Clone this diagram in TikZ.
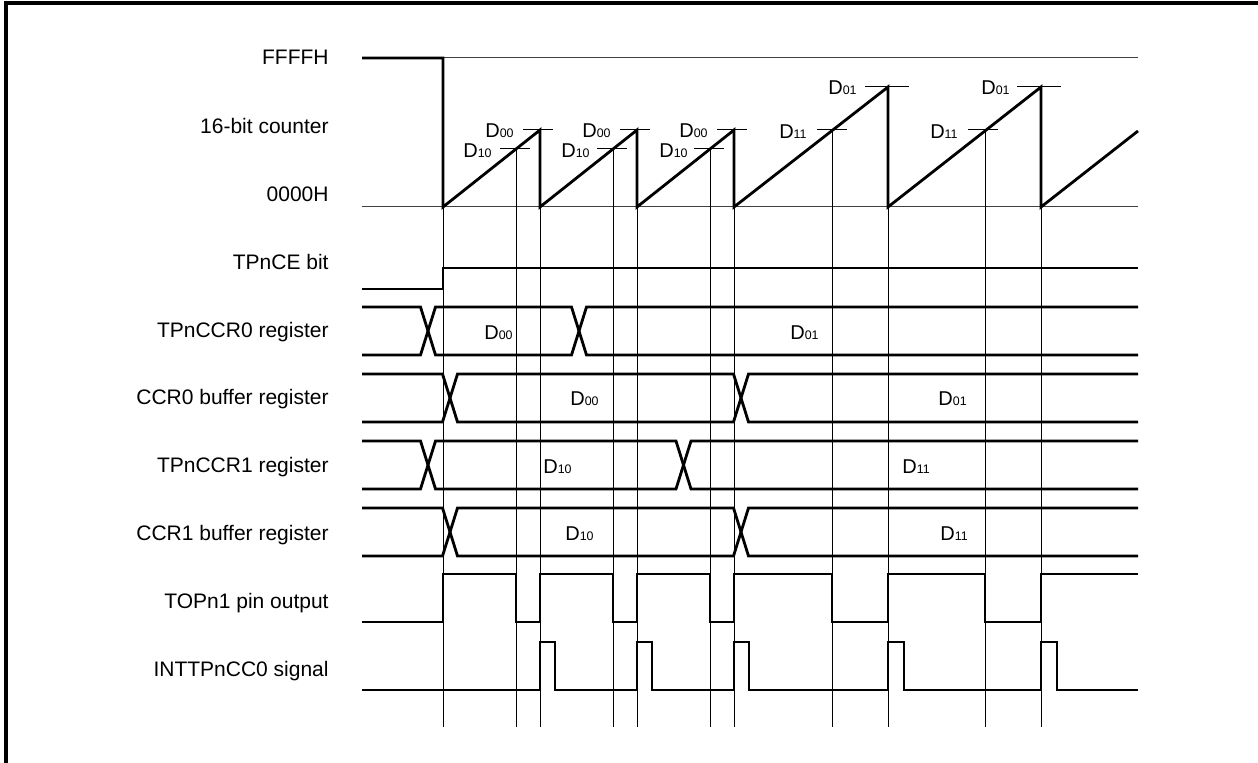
\documentclass[tikz,border=0pt]{standalone}
\usepackage{fontspec}
\setmainfont{Liberation Sans}
\newcommand\Dsub[1]{D{\fontsize{6.2}{7}\selectfont #1}}
\newcommand\busrow[4]{%
  \draw[sig] (362,#1) -- ({#3-7.5},#1) -- ({#3+7.5},#2) -- ({#4-7.5},#2) -- ({#4+7.5},#1) -- (1138,#1);
  \draw[sig] (362,#2) -- ({#3-7.5},#2) -- ({#3+7.5},#1) -- ({#4-7.5},#1) -- ({#4+7.5},#2) -- (1138,#2);}
\begin{document}
\begin{tikzpicture}[x=0.5pt,y=-0.5pt,
  lab/.style={anchor=base east,font=\fontsize{10.5}{12}\selectfont,inner sep=0pt},
  dlab/.style={anchor=base east,font=\fontsize{10}{12}\selectfont,inner sep=0pt},
  blab/.style={anchor=base west,font=\fontsize{10}{12}\selectfont,inner sep=0pt},
  sig/.style={line width=1.4pt,line join=miter},
  vline/.style={line width=0.5pt},
  ref/.style={line width=0.5pt,black!75}]
\useasboundingbox (0,0) rectangle (1258,763);
% frame
\draw[line width=1.7pt] (6,763) -- (6,3) -- (1258,3);
% labels
\node[lab] (lffff) at (329,64.5) {FFFFH};
\node[lab] (lcnt) at (329,133.3) {16-bit counter};
\node[lab] (l0000) at (329,201.7) {0000H};
\node[lab] (lce) at (329,269.3) {TPnCE bit};
\node[lab] (lr0) at (329,337.3) {TPnCCR0 register};
\node[lab] (lb0) at (329,405) {CCR0 buffer register};
\node[lab] (lr1) at (329,472.7) {TPnCCR1 register};
\node[lab] (lb1) at (329,541) {CCR1 buffer register};
\node[lab] (ltop) at (329,609) {TOPn1 pin output};
\node[lab] (lint) at (329,676.7) {INTTPnCC0 signal};
% reference lines
\draw[ref] (443,58) -- (1138,58);
\draw[ref] (362,207) -- (1138,207);
% vertical timing lines
\draw[vline] (443,207) -- (443,727);
\draw[vline] (516,149) -- (516,727);
\draw[vline] (540,130) -- (540,727);
\draw[vline] (613,149) -- (613,727);
\draw[vline] (637,130) -- (637,727);
\draw[vline] (710,149) -- (710,727);
\draw[vline] (734,130) -- (734,727);
\draw[vline] (832,130) -- (832,727);
\draw[vline] (888,87) -- (888,727);
\draw[vline] (985,130) -- (985,727);
\draw[vline] (1041,87) -- (1041,727);
% ticks
\draw[vline] (523,130) -- (553,130);
\draw[vline] (620,130) -- (650,130);
\draw[vline] (717,130) -- (747,130);
\draw[vline] (500,149) -- (530,149);
\draw[vline] (597,149) -- (627,149);
\draw[vline] (694,149) -- (724,149);
\draw[vline] (817,130) -- (847,130);
\draw[vline] (968,130) -- (998,130);
\draw[vline] (865,87) -- (909,87);
\draw[vline] (1017,87) -- (1061,87);
% counter labels
\node[dlab] (d00a) at (514,137.7) {\Dsub{00}};
\node[dlab] (d00b) at (611,137.7) {\Dsub{00}};
\node[dlab] (d00c) at (708,137.7) {\Dsub{00}};
\node[dlab] (d10a) at (492,157.3) {\Dsub{10}};
\node[dlab] (d10b) at (590,157.3) {\Dsub{10}};
\node[dlab] (d10c) at (688,157.3) {\Dsub{10}};
\node[dlab] (d11a) at (807,138.3) {\Dsub{11}};
\node[dlab] (d11b) at (958,138.3) {\Dsub{11}};
\node[dlab] (d01a) at (857,94.3) {\Dsub{01}};
\node[dlab] (d01b) at (1010,94.3) {\Dsub{01}};
% counter trace
\draw[sig] (362,58) -- (443,58) -- (443,207) -- (540,130) -- (540,207) -- (637,130) -- (637,207)
  -- (734,130) -- (734,207) -- (888,87) -- (888,207) -- (1041,87) -- (1041,207) -- (1138,131);
% TPnCE bit
\draw[sig] (362,289) -- (443,289) -- (443,268) -- (1138,268);
% bus rows
\busrow{307}{355}{428}{579}
\busrow{374}{422}{450}{741}
\busrow{441}{489}{428}{683.5}
\busrow{508}{556}{450}{741}
\node[blab] (r0a) at (484,339.3) {\Dsub{00}};
\node[blab] (r0b) at (790,339.3) {\Dsub{01}};
\node[blab] (b0a) at (570,406) {\Dsub{00}};
\node[blab] (b0b) at (938,406) {\Dsub{01}};
\node[blab] (r1a) at (543,473.3) {\Dsub{10}};
\node[blab] (r1b) at (902,473.3) {\Dsub{11}};
\node[blab] (b1a) at (565,541) {\Dsub{10}};
\node[blab] (b1b) at (940,541) {\Dsub{11}};
% TOPn1
\draw[sig] (362,622) -- (443,622) -- (443,574) -- (516,574) -- (516,622) -- (540,622) -- (540,574)
  -- (613,574) -- (613,622) -- (637,622) -- (637,574) -- (710,574) -- (710,622) -- (734,622)
  -- (734,574) -- (832,574) -- (832,622) -- (888,622) -- (888,574) -- (985,574) -- (985,622)
  -- (1041,622) -- (1041,574) -- (1138,574);
% INTTPnCC0
\draw[sig] (362,690) -- (540,690) -- (540,642) -- (555,642) -- (555,690) -- (637,690) -- (637,642)
  -- (652,642) -- (652,690) -- (734,690) -- (734,642) -- (749,642) -- (749,690) -- (888,690)
  -- (888,642) -- (904,642) -- (904,690) -- (1041,690) -- (1041,642) -- (1057,642) -- (1057,690)
  -- (1138,690);
\end{tikzpicture}
\end{document}
